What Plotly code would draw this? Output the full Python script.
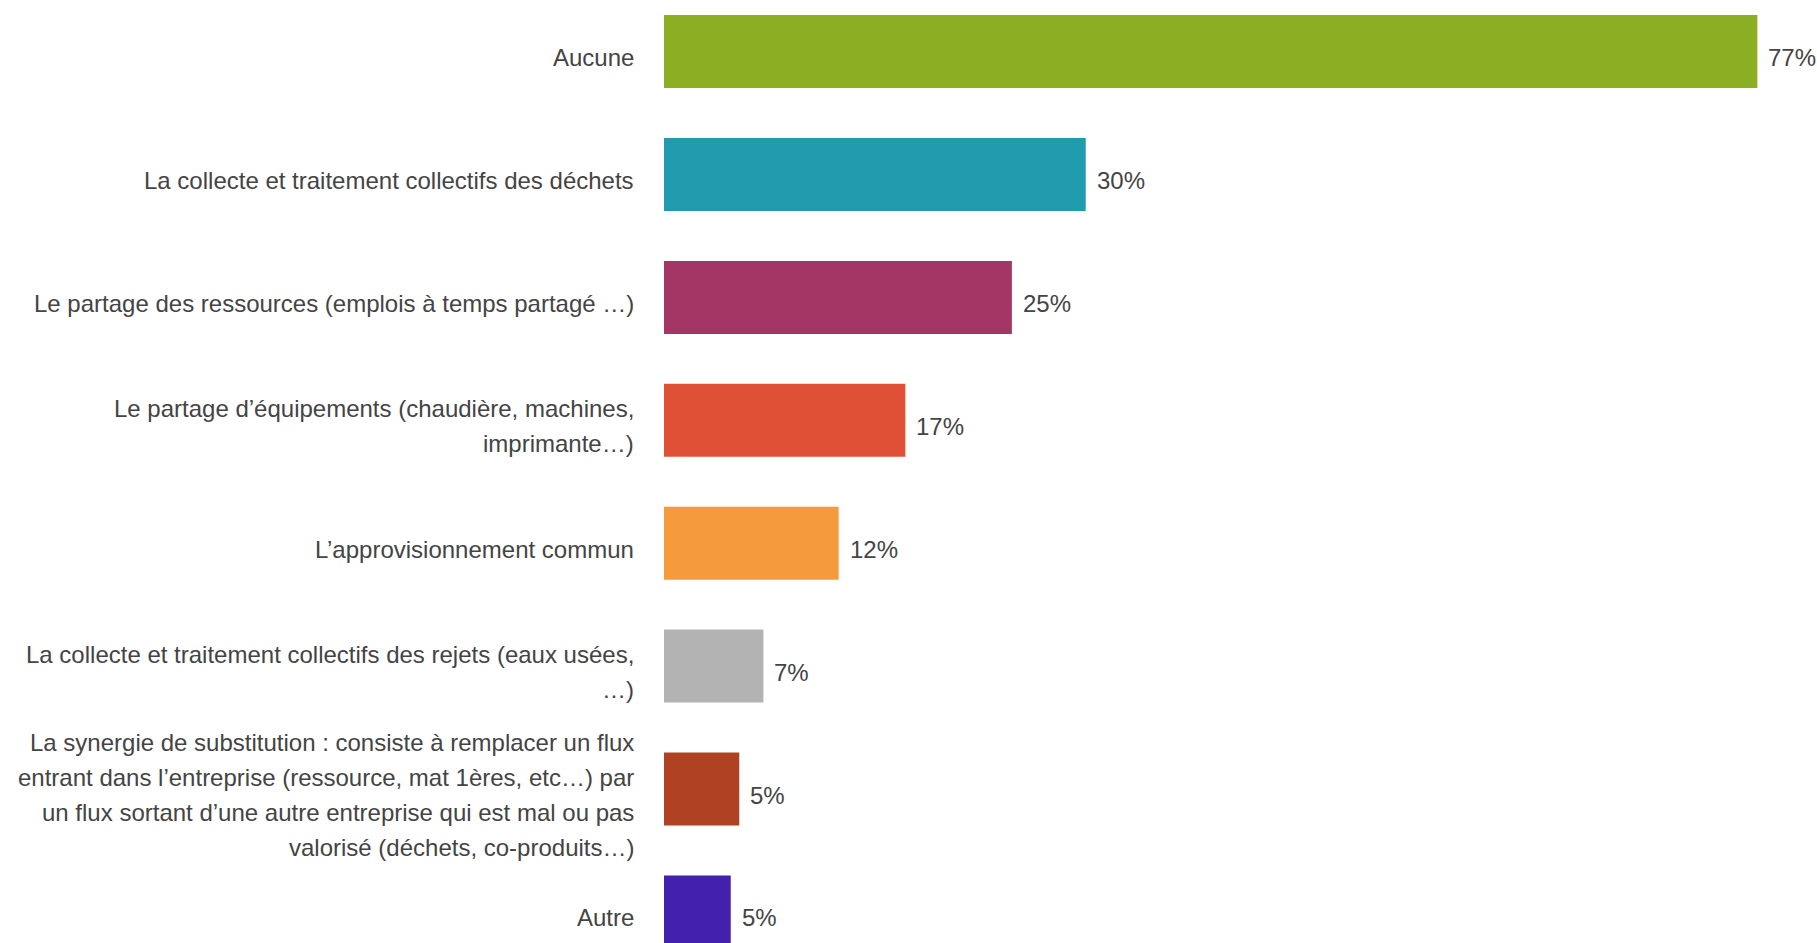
import plotly.graph_objects as go

categories = [
    "Aucune",
    "La collecte et traitement collectifs des déchets",
    "Le partage des ressources (emplois à temps partagé …)",
    "Le partage d’équipements (chaudière, machines,<br>imprimante…)",
    "L’approvisionnement commun",
    "La collecte et traitement collectifs des rejets (eaux usées,<br>…)",
    "La synergie de substitution : consiste à remplacer un flux<br>entrant dans l’entreprise (ressource, mat 1ères, etc…) par<br>un flux sortant d’une autre entreprise qui est mal ou pas<br>valorisé (déchets, co-produits…)",
    "Autre",
]
values = [77.0, 29.7, 24.5, 17.0, 12.3, 7.0, 5.3, 4.7]
value_labels = ["77%", "30%", "25%", "17%", "12%", "7%", "5%", "5%"]
colors = ["#8BAE22", "#219CAF", "#A33664", "#DF5036", "#F69B3B",
          "#B3B3B3", "#AE4223", "#4320AE"]

FONT = "Liberation Sans, Arial, sans-serif"
TXT = "#444444"
FS = 24
LINE = 35
OFFSET = -6

fig = go.Figure(
    go.Bar(
        x=values,
        y=categories,
        orientation="h",
        marker=dict(color=colors, line=dict(width=0)),
        hoverinfo="skip",
    )
)

annotations = []
for cat, val, lab in zip(categories, values, value_labels):
    lines = cat.split("<br>")
    n = len(lines)
    for j, ln in enumerate(lines):
        shift = ((n - 1) / 2 - j) * LINE + OFFSET
        annotations.append(dict(
            x=0, y=cat, xref="x", yref="y", text=ln, showarrow=False,
            xanchor="right", yanchor="middle", xshift=-28, yshift=shift,
            font=dict(family=FONT, size=FS, color=TXT),
        ))
    annotations.append(dict(
        x=val, y=cat, xref="x", yref="y", text=lab, showarrow=False,
        xanchor="left", yanchor="middle", xshift=9, yshift=OFFSET,
        font=dict(family=FONT, size=FS, color=TXT),
    ))

fig.update_layout(
    width=1817, height=943,
    margin=dict(l=664, r=0, t=0, b=0),
    paper_bgcolor="white", plot_bgcolor="white",
    bargap=0.406,
    showlegend=False,
    hovermode=False,
    xaxis=dict(range=[0, 81.2], showgrid=False, zeroline=False,
               showticklabels=False, showline=False, ticks=""),
    yaxis=dict(range=[7.253, -0.420], showgrid=False, zeroline=False,
               showticklabels=False, showline=False, ticks=""),
    annotations=annotations,
)

fig.write_html(
    "out.html",
    config={"displayModeBar": False},
    post_script="document.body.style.margin='0';document.body.style.overflow='hidden';",
)
